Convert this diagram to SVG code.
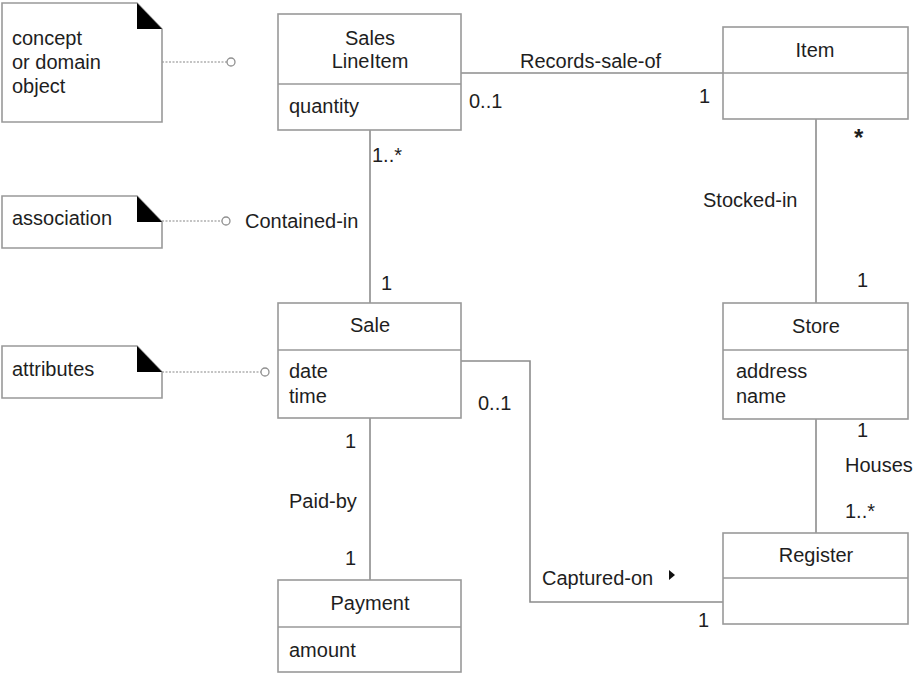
<svg xmlns="http://www.w3.org/2000/svg" width="923" height="682" viewBox="0 0 923 682">
<style>
.box{fill:#fff;stroke:#999;stroke-width:1.6}
.div{stroke:#999;stroke-width:1.6}
.con{fill:none;stroke:#8c8c8c;stroke-width:1.6}
.dot{fill:none;stroke:#b0b0b0;stroke-width:1.6;stroke-dasharray:2 1.5}
.ring{fill:#fff;stroke:#909090;stroke-width:1.3}
.fold{fill:#000}
text{font-family:"Liberation Sans",Arial,sans-serif;font-size:20px;fill:#1e1e1e}
.c{text-anchor:middle}
</style>
<rect width="923" height="682" fill="#fff"/>

<g id="connectors">
<line class="con" x1="461" y1="73" x2="723" y2="73"/>
<line class="con" x1="370" y1="130" x2="370" y2="303"/>
<line class="con" x1="816" y1="119" x2="816" y2="303"/>
<line class="con" x1="370" y1="418" x2="370" y2="580"/>
<line class="con" x1="816" y1="419" x2="816" y2="533"/>
<path class="con" d="M461,361 H530 V602 H723"/>
<line class="dot" x1="162" y1="62" x2="227" y2="62"/>
<circle class="ring" cx="231" cy="62" r="4"/>
<line class="dot" x1="162" y1="221" x2="222" y2="221"/>
<circle class="ring" cx="226" cy="221" r="4"/>
<line class="dot" x1="162" y1="372" x2="261" y2="372"/>
<circle class="ring" cx="265" cy="372" r="4"/>
<polygon fill="#111" points="669,570 675,575 669,580"/>
<text x="520" y="68">Records-sale-of</text>
<text x="469" y="108">0..1</text>
<text x="699" y="103">1</text>
<text x="372" y="162">1..*</text>
<text x="245" y="228">Contained-in</text>
<text x="381" y="290">1</text>
<text x="854" y="146" style="font-size:24px;font-weight:bold">*</text>
<text x="703" y="207">Stocked-in</text>
<text x="857" y="287">1</text>
<text x="478" y="410">0..1</text>
<text x="345" y="448">1</text>
<text x="289" y="508">Paid-by</text>
<text x="345" y="565">1</text>
<text x="857" y="437">1</text>
<text x="845" y="472">Houses</text>
<text x="845" y="518">1..*</text>
<text x="542" y="585">Captured-on</text>
<text x="698" y="627">1</text>
</g>

<g id="note-concept">
<path class="box" d="M2,3 H137 L162,29 V122 H2 Z"/>
<polygon class="fold" points="137,3 137,29 162,29"/>
<text x="12" y="45">concept</text>
<text x="12" y="69">or domain</text>
<text x="12" y="93">object</text>
</g>

<g id="note-association">
<path class="box" d="M2,196 H137 L162,222 V248 H2 Z"/>
<polygon class="fold" points="137,196 137,222 162,222"/>
<text x="12" y="225">association</text>
</g>

<g id="note-attributes">
<path class="box" d="M2,346 H137 L162,372 V398 H2 Z"/>
<polygon class="fold" points="137,346 137,372 162,372"/>
<text x="12" y="376">attributes</text>
</g>

<g id="SalesLineItem">
<rect class="box" x="278" y="14" width="183" height="116"/>
<line class="div" x1="278" y1="84" x2="461" y2="84"/>
<text class="c" x="370" y="45">Sales</text>
<text class="c" x="370" y="68">LineItem</text>
<text x="289" y="113">quantity</text>
</g>

<g id="Item">
<rect class="box" x="723" y="27" width="185" height="92"/>
<line class="div" x1="723" y1="73" x2="908" y2="73"/>
<text class="c" x="815" y="57">Item</text>
</g>

<g id="Sale">
<rect class="box" x="278" y="303" width="183" height="115"/>
<line class="div" x1="278" y1="350" x2="461" y2="350"/>
<text class="c" x="370" y="332">Sale</text>
<text x="289" y="378">date</text>
<text x="289" y="403">time</text>
</g>

<g id="Store">
<rect class="box" x="723" y="303" width="185" height="116"/>
<line class="div" x1="723" y1="350" x2="908" y2="350"/>
<text class="c" x="816" y="333">Store</text>
<text x="736" y="378">address</text>
<text x="736" y="403">name</text>
</g>

<g id="Payment">
<rect class="box" x="278" y="580" width="183" height="92"/>
<line class="div" x1="278" y1="627" x2="461" y2="627"/>
<text class="c" x="370" y="610">Payment</text>
<text x="289" y="657">amount</text>
</g>

<g id="Register">
<rect class="box" x="723" y="533" width="185" height="91"/>
<line class="div" x1="723" y1="578" x2="908" y2="578"/>
<text class="c" x="816" y="562">Register</text>
</g>
</svg>
